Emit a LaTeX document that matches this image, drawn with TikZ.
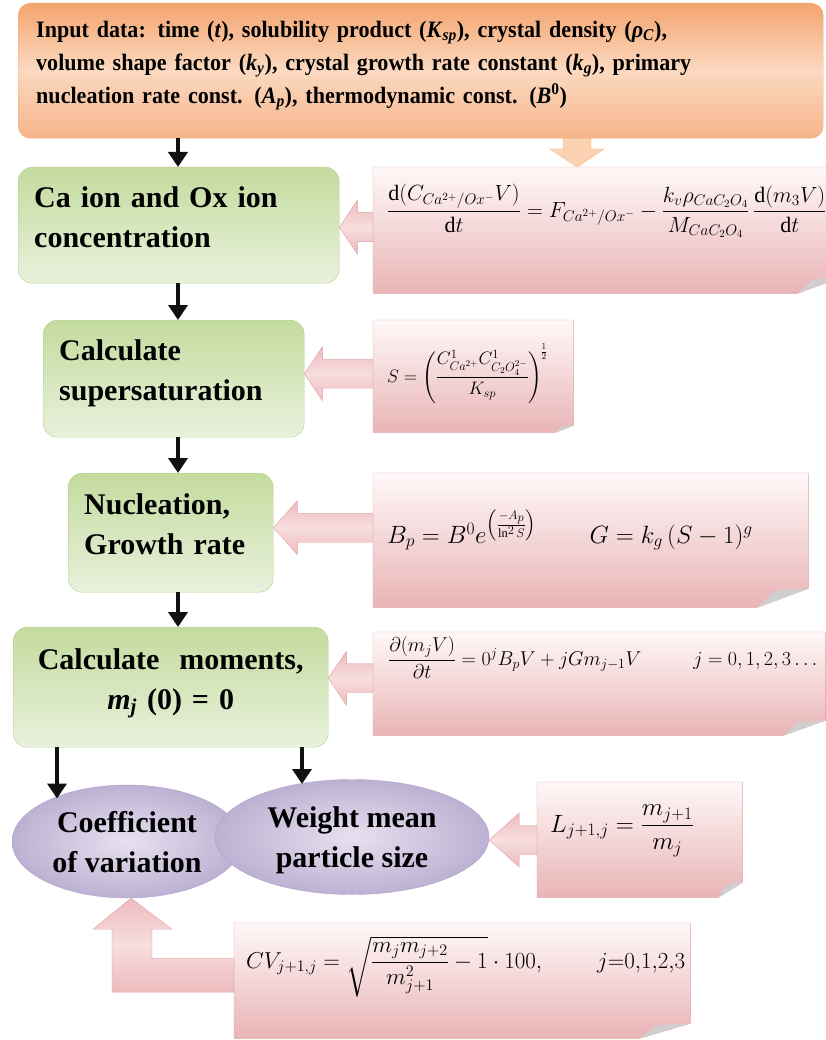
\documentclass[tikz,border=0pt]{standalone}
\usepackage{fix-cm}
\usepackage{amsmath}
\usepackage{fontspec}
\setmainfont{Liberation Serif}
\newfontfamily\inputfont{Liberation Serif}[FakeStretch=0.94]
\usetikzlibrary{arrows.meta,positioning,calc,shapes.geometric,backgrounds}
\definecolor{flowInk}{HTML}{111111}
\definecolor{inTop}{HTML}{F4A46E}
\definecolor{inMid}{HTML}{FBD9C0}
\definecolor{inLow}{HTML}{F6B48A}
\definecolor{inEdge}{HTML}{F2AE80}
\definecolor{gnTop}{HTML}{C4DB9E}
\definecolor{gnLow}{HTML}{E8F1DC}
\definecolor{gnEdge}{HTML}{B3CF8C}
\definecolor{eqTop}{HTML}{FFF8F8}
\definecolor{eqLow}{HTML}{E9B4B6}
\definecolor{eqEdge}{HTML}{DDA2A5}
\definecolor{foldGray}{HTML}{CFCFCF}
\definecolor{arTop}{HTML}{EDBABD}
\definecolor{arMid}{HTML}{F8DEDF}
\definecolor{arEdge}{HTML}{DDA0A3}
\definecolor{orArrow}{HTML}{FBD3B3}
\definecolor{orArrowEdge}{HTML}{F4B184}
\definecolor{lvIn}{HTML}{E6E1EF}
\definecolor{lvOut}{HTML}{BDB1D3}
\definecolor{lvEdge}{HTML}{AFA1C9}
\tikzset{
  inputBox/.style={draw=inEdge, top color=inTop, bottom color=inLow, middle color=inMid, rounded corners=12pt, anchor=north west, inner xsep=18pt, inner ysep=0pt, align=left, font=\inputfont\fontsize{23.5}{33}\selectfont\bfseries},
  greenBox/.style={draw=gnEdge, top color=gnTop, bottom color=gnLow, rounded corners=14pt, anchor=north west, inner xsep=16pt, inner ysep=0pt, text depth=57pt, font=\fontsize{30}{40}\selectfont\bfseries},
  eqBox/.style={anchor=north west, inner xsep=14pt, inner ysep=0pt, align=left},
  eqShade/.style={draw=eqEdge, top color=eqTop, bottom color=eqLow},
  ovalBox/.style={ellipse, draw=lvEdge, inner color=lvIn, outer color=lvOut, inner sep=0pt, align=center, text depth=0pt, font=\fontsize{30}{40}\selectfont\bfseries},
  flowArrow/.style={draw=flowInk, line width=4pt, -{Triangle[length=15pt,width=19pt]}},
  pinkArrow/.style={draw=arEdge, top color=arTop, bottom color=arTop, middle color=arMid},
  dropArrow/.style={draw=orArrowEdge, fill=orArrow}
}
\newcommand{\eqFold}[3]{%
  \begin{scope}[on background layer]
    \shadedraw[eqShade] (#1.north west) -- (#1.north east) -- ([yshift=#3]#1.south east) -- ([xshift=-#2]#1.south east) -- (#1.south west) -- cycle;
    \fill[foldGray] ([xshift=-#2]#1.south east) -- ([yshift=#3]#1.south east) -- ([xshift=-0.65*#2, yshift=0.85*#3]#1.south east) -- cycle;
  \end{scope}}
\newcommand{\sideArrow}[3][18]{%
  \path #3 coordinate (tip) ++(#1,-14.5) coordinate (sa) ++(0,29) coordinate (sb);
  \shadedraw[pinkArrow] (tip) -- ++(#1,-27) -- (sa) -- (#2.west |- sa) -- (#2.west |- sb) -- (sb) -- ++(0,12.5) -- cycle;}
\begin{document}
\begin{tikzpicture}[x=1pt, y=-1pt]
  \useasboundingbox (0,0) rectangle (825,1040);

  \node[inputBox, minimum height=135pt, text width=769pt, text depth=83pt] (input) at (18,3) {Input data: time (\textit{t}), solubility product (\textit{K}\textsubscript{\textit{sp}}), crystal density (\textit{ρ}\textsubscript{\textit{C}}),\\ volume shape factor (\textit{k}\textsubscript{\textit{y}}), crystal growth rate constant (\textit{k}\textsubscript{\textit{g}}), primary\\ nucleation rate const. (\textit{A}\textsubscript{\textit{p}}), thermodynamic const. (\textit{B}\textsuperscript{0})};

  \node[greenBox, minimum height=116pt, text width=289pt, align=left] (conc) at (18,167) {Ca ion and Ox ion\\ concentration};
  \node[greenBox, minimum height=117pt, text width=229pt, align=left] (sup) at (43,320) {Calculate\\ supersaturation};
  \node[greenBox, minimum height=119pt, text width=173pt, align=left] (nuc) at (68,473) {Nucleation,\\ Growth rate};
  \node[greenBox, minimum height=120pt, text width=283pt, align=center] (mom) at (13,627) {Calculate~~moments,\\ \textit{m}\textsubscript{\textit{j}} (0) = 0};

  \node[ovalBox, minimum width=230pt, minimum height=113pt] (cv) at (127,841.5) {Coefficient\\ of variation};
  \node[ovalBox, minimum width=274pt, minimum height=115pt] (wm) at (352,837) {Weight mean\\ particle size};

  \node[eqBox, align=center, minimum width=450pt, text height=50pt, text depth=76pt, font=\fontsize{22}{26}\selectfont] (eqConc) at (373,167) {$\dfrac{\mathrm{d}(C_{Ca^{2+}/Ox^{-}}V)}{\mathrm{d}t} = F_{Ca^{2+}/Ox^{-}} - \dfrac{k_v\rho_{CaC_2O_4}}{M_{CaC_2O_4}}\,\dfrac{\mathrm{d}(m_3V)}{\mathrm{d}t}$};
  \node[eqBox, text width=172pt, text height=62pt, text depth=50pt, font=\fontsize{18}{21}\selectfont] (eqSat) at (373,320) {$S = \left(\dfrac{C^{1}_{Ca^{2+}}C^{1}_{C_2O_4^{2-}}}{K_{sp}}\right)^{\!\frac{1}{2}}$};
  \node[eqBox, text width=407pt, text height=70pt, text depth=64pt, font=\fontsize{25}{30}\selectfont] (eqRate) at (373,473) {\mbox{$B_p = B^0 e^{\left(\frac{-A_p}{\ln^2 S}\right)}$\hspace{53pt}$G = k_g\,(S-1)^g$}};
  \node[eqBox, inner xsep=15pt, text width=422pt, text height=33pt, text depth=70pt, font=\fontsize{20}{24}\selectfont] (eqMom) at (373,632) {\mbox{$\dfrac{\partial(m_jV)}{\partial t} = 0^j B_pV + jGm_{j-1}V$\hspace{52pt}$j = 0,1,2,3\ldots$}};
  \node[eqBox, inner xsep=13pt, text width=179pt, text height=50pt, text depth=65pt, font=\fontsize{25}{30}\selectfont] (eqL) at (537,782) {$L_{j+1,j} = \dfrac{m_{j+1}}{m_j}$};
  \node[eqBox, inner xsep=12pt, text width=432pt, text height=45pt, text depth=70pt, font=\fontsize{23}{28}\selectfont] (eqCV) at (234,923) {\mbox{$CV_{j+1,j} = \sqrt{\dfrac{m_jm_{j+2}}{m_{j+1}^2} - 1}\cdot 100,$\hspace{55pt}$j{=}0{,}1{,}2{,}3$}};

  \eqFold{eqConc}{43pt}{16pt}
  \eqFold{eqSat}{18pt}{7pt}
  \eqFold{eqRate}{51pt}{19pt}
  \eqFold{eqMom}{42pt}{15pt}
  \eqFold{eqL}{24pt}{15pt}
  \eqFold{eqCV}{51pt}{15pt}

  \coordinate (spine) at (178,0);
  \coordinate (dropX) at (577,0);
  \coordinate (cvTop) at ($(cv.center)+(-70,-43)$);
  \coordinate (wmTop) at ($(wm.center)+(-50,-53)$);
  \draw[flowArrow] (input.south -| spine) -- (conc.north -| spine);
  \draw[flowArrow] (conc.south -| spine) -- (sup.north -| spine);
  \draw[flowArrow] (sup.south -| spine) -- (nuc.north -| spine);
  \draw[flowArrow] (nuc.south -| spine) -- (mom.north -| spine);
  \draw[flowArrow] (mom.south -| cvTop) -- (cvTop);
  \draw[flowArrow] (mom.south -| wmTop) -- (wmTop);

  \path (eqConc.north -| dropX) coordinate (dt) ++(14,-18) coordinate (da) ++(-28,0) coordinate (db);
  \filldraw[dropArrow] (dt) -- ($(da)+(13,0)$) -- (da) -- (input.south -| da) -- (input.south -| db) -- (db) -- ($(db)+(-13,0)$) -- cycle;

  \sideArrow{eqConc}{($(conc.east)+(0,2)$)}
  \sideArrow{eqSat}{($(sup.east)+(0,-5)$)}
  \sideArrow[24]{eqRate}{($(nuc.east)+(0,-5)$)}
  \sideArrow{eqMom}{($(mom.east)+(0,-9)$)}
  \sideArrow[30]{eqL}{($(wm.east)+(0,3)$)}

  \path (cv.south) ++(4,0) coordinate (et);
  \shadedraw[pinkArrow] (et) -- ++(41,31) -- ++(-20,0) -- ++(0,29) coordinate (ea) -- (eqCV.west |- ea) -- ++(0,34) -- ($(et)+(-19,94)$) -- ++(0,-63) -- ++(-19,0) -- cycle;
\end{tikzpicture}
\end{document}
